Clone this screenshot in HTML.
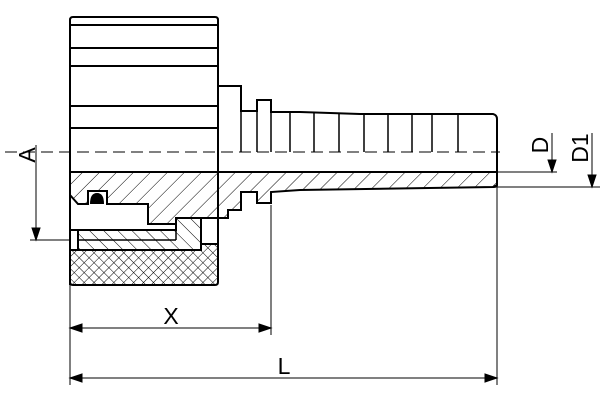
<!DOCTYPE html>
<html><head><style>body{margin:0;background:#fff}svg{display:block}</style></head><body>
<svg width="600" height="400" viewBox="0 0 600 400" xmlns="http://www.w3.org/2000/svg" font-family="Liberation Sans, sans-serif">
<defs>
<pattern id="h" width="12" height="12" patternUnits="userSpaceOnUse" patternTransform="rotate(45)"><line x1="0" y1="0" x2="0" y2="12" stroke="#000" stroke-width="1"/></pattern>
<pattern id="h2" width="10" height="10" patternUnits="userSpaceOnUse" patternTransform="rotate(-45)"><line x1="0" y1="0" x2="0" y2="10" stroke="#000" stroke-width="1"/></pattern>
<pattern id="k" width="7" height="7" patternUnits="userSpaceOnUse" patternTransform="rotate(45)"><path d="M0 0V7M0 0H7" stroke="#000" stroke-width="1" fill="none"/></pattern>
</defs>
<g stroke="#000" stroke-width="2" fill="none">
<path d="M70 152 V20 Q70 17 73 17 H215 Q218 17 218 20 V152"/>
<line x1="70" y1="25" x2="218" y2="25"/>
<path d="M70 48 H218"/>
<path d="M70 66 H218"/>
<path d="M70 106 H218"/>
<path d="M70 128 H218"/>
<path d="M218 86 H241 V111 H257 V100 H271 V112 L300 112 L360 114 L430 114 L493 114 Q497 115 497 119 V185 Q497 187 493 187"/>
<g stroke-width="1.5">
<line x1="241" y1="111" x2="241" y2="152"/><line x1="257" y1="100" x2="257" y2="152"/><line x1="271" y1="100" x2="271" y2="152"/>
<line x1="290" y1="113" x2="290" y2="152"/><line x1="314" y1="113" x2="314" y2="152"/><line x1="339" y1="113" x2="339" y2="152"/>
<line x1="364" y1="113" x2="364" y2="152"/><line x1="388" y1="113" x2="388" y2="152"/><line x1="412" y1="113" x2="412" y2="152"/>
<line x1="432" y1="114" x2="432" y2="152"/><line x1="458" y1="114" x2="458" y2="152"/>
</g>
</g>
<line x1="5" y1="152" x2="500" y2="152" stroke="#000" stroke-width="1" stroke-dasharray="12,6"/>
<path d="M70 172 H497 V185 L493 187 L300 190 L271 192 V203 H257 V192 H241 V210 H228 V218 H176 V224 H148 V204 H107 V191 H88 V204 H78 L70 195 Z" fill="url(#h)" stroke="#000" stroke-width="2"/>
<path d="M90 204 Q90 193 97 193 Q104 193 104 204 Z" fill="#000"/>
<path d="M78 230 H176 V218 H201 V250 H78 Z" fill="url(#h2)" stroke="#000" stroke-width="2"/>
<line x1="176" y1="230" x2="176" y2="240" stroke="#000" stroke-width="1.5"/>
<line x1="78" y1="240" x2="176" y2="240" stroke="#000" stroke-width="1.5"/>
<path d="M70 230 L78 230 M70 204 V285" stroke="#000" stroke-width="2"/>
<path d="M70 250 H201 V244 H218 V282 Q218 285 215 285 H73 Q70 285 70 282 Z" fill="url(#k)" stroke="#000" stroke-width="2"/>
<path d="M201 218 V244 M218 152 V244 M70 152 V210" stroke="#000" stroke-width="2"/>
<g stroke="#000" stroke-width="1" fill="#000">
<line x1="30" y1="240" x2="70" y2="240"/>
<line x1="36" y1="145" x2="36" y2="232"/><path d="M32 228 L36 240 L40 228Z"/>
<line x1="70" y1="285" x2="70" y2="385"/>
<line x1="271" y1="205" x2="271" y2="335"/>
<line x1="497" y1="187" x2="497" y2="385"/>
<line x1="70" y1="328" x2="271" y2="328"/><path d="M82 324 L70 328 L82 332Z M259 324 L271 328 L259 332Z"/>
<line x1="70" y1="378" x2="497" y2="378"/><path d="M82 374 L70 378 L82 382Z M485 374 L497 378 L485 382Z"/>
<line x1="497" y1="172" x2="557" y2="172"/>
<line x1="552" y1="133" x2="552" y2="165"/><path d="M548 160 L552 172 L556 160Z"/>
<line x1="497" y1="187" x2="600" y2="187"/>
<line x1="592" y1="133" x2="592" y2="180"/><path d="M588 175 L592 187 L596 175Z"/>
</g>
<g font-size="23" fill="#000">
<text transform="translate(35,155) rotate(-90)" text-anchor="middle">A</text>
<text x="171" y="324" text-anchor="middle">X</text>
<text x="284" y="374" text-anchor="middle">L</text>
<text transform="translate(548,145) rotate(-90)" text-anchor="middle">D</text>
<text transform="translate(588,148) rotate(-90)" text-anchor="middle">D1</text>
</g>
</svg>
</body></html>
